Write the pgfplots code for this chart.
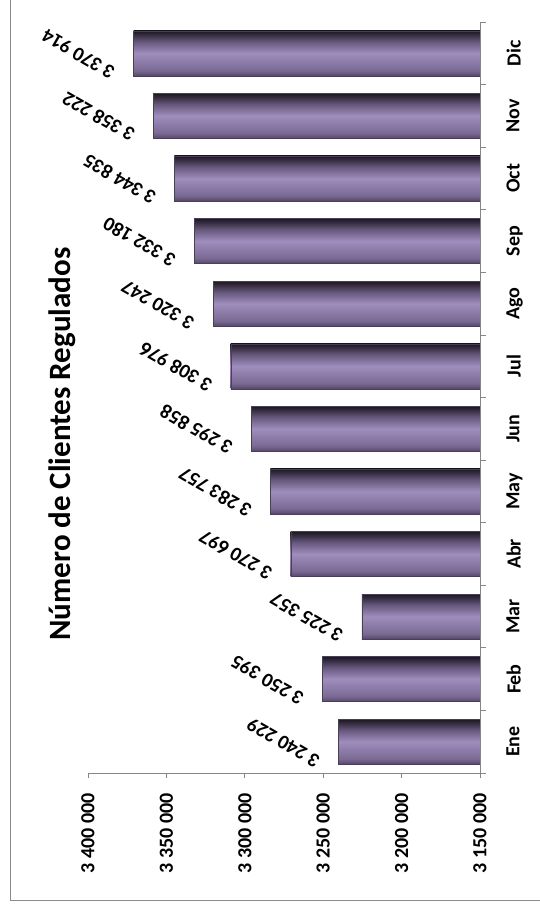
\documentclass[border=0pt]{standalone}
\usepackage{pgfplots}
\pgfplotsset{compat=1.18}
\usepackage{fontspec}
\setmainfont{Carlito}

\definecolor{axisgray}{HTML}{868686}
\definecolor{framegray}{HTML}{8C8C8C}
\definecolor{barTop}{HTML}{1C1722}
\definecolor{barDark}{HTML}{3A3046}
\definecolor{barUp}{HTML}{66577C}
\definecolor{barMid}{HTML}{9F8DBD}
\definecolor{barLow}{HTML}{7A6A93}
\definecolor{barBot}{HTML}{554767}
\definecolor{barEdge}{HTML}{4A3F58}

\pgfdeclareverticalshading{barshade}{100bp}{%
  color(0bp)=(barBot); color(25bp)=(barBot); color(31bp)=(barLow);
  color(50bp)=(barMid); color(63bp)=(barUp); color(70bp)=(barDark);
  color(75bp)=(barTop); color(100bp)=(barTop)}

\begin{document}
\begin{tikzpicture}
\path[use as bounding box] (-88pt,-135pt) rectangle (452pt,773pt);
\draw[framegray, line width=1pt] (-77pt,790pt) -- (-77pt,-127pt) -- (470pt,-127pt);
\begin{axis}[
  at={(0pt,0pt)}, anchor=south west,
  scale only axis, width=392pt, height=751pt,
  xmin=3150000, xmax=3400000, x dir=reverse,
  ymin=-0.5, ymax=11.5,
  axis x line*=bottom, axis y line*=right,
  axis line style={axisgray, line width=0.8pt},
  scaled x ticks=false,
  xtick={3150000,3200000,3250000,3300000,3350000,3400000},
  xticklabels={3 150 000,3 200 000,3 250 000,3 300 000,3 350 000,3 400 000},
  ytick={0,...,11},
  yticklabels={Ene,Feb,Mar,Abr,May,Jun,Jul,Ago,Sep,Oct,Nov,Dic},
  minor ytick={-0.5,0.5,...,11.5},
  tick align=outside,
  major tick length=5pt, minor tick length=6pt,
  major x tick style={axisgray, line width=0.8pt},
  major y tick style={draw=none},
  minor y tick style={axisgray, line width=0.8pt},
  ticklabel style={font=\bfseries\fontsize{20}{24}\selectfont},
  xticklabel style={rotate=90, anchor=east},
  xticklabel shift=12pt,
  yticklabel style={rotate=90, anchor=north},
  yticklabel shift=18pt,
  point meta=explicit symbolic,
  every node near coord/.append style={font=\bfseries\fontsize{20}{24}\selectfont,
    xshift=-55pt, yshift=-1pt, rotate=150},
  monthbar/.style={xbar, bar width=45pt, bar shift=0pt, shading=barshade,
    draw=barEdge, line width=0.4pt, nodes near coords, nodes near coords align=center},
]
\addplot[monthbar] coordinates {(3240229,0) [3 240 229]};
\addplot[monthbar] coordinates {(3250395,1) [3 250 395]};
\addplot[monthbar] coordinates {(3225357,2) [3 225 357]};
\addplot[monthbar] coordinates {(3270697,3) [3 270 697]};
\addplot[monthbar] coordinates {(3283757,4) [3 283 757]};
\addplot[monthbar] coordinates {(3295858,5) [3 295 858]};
\addplot[monthbar] coordinates {(3308976,6) [3 308 976]};
\addplot[monthbar] coordinates {(3320247,7) [3 320 247]};
\addplot[monthbar] coordinates {(3332180,8) [3 332 180]};
\addplot[monthbar] coordinates {(3344835,9) [3 344 835]};
\addplot[monthbar] coordinates {(3358222,10) [3 358 222]};
\addplot[monthbar] coordinates {(3370914,11) [3 370 914]};
\end{axis}
\node[rotate=90, font=\bfseries\fontsize{31}{36}\selectfont] at (-26pt,329pt) {Número de Clientes Regulados};
\end{tikzpicture}
\end{document}
